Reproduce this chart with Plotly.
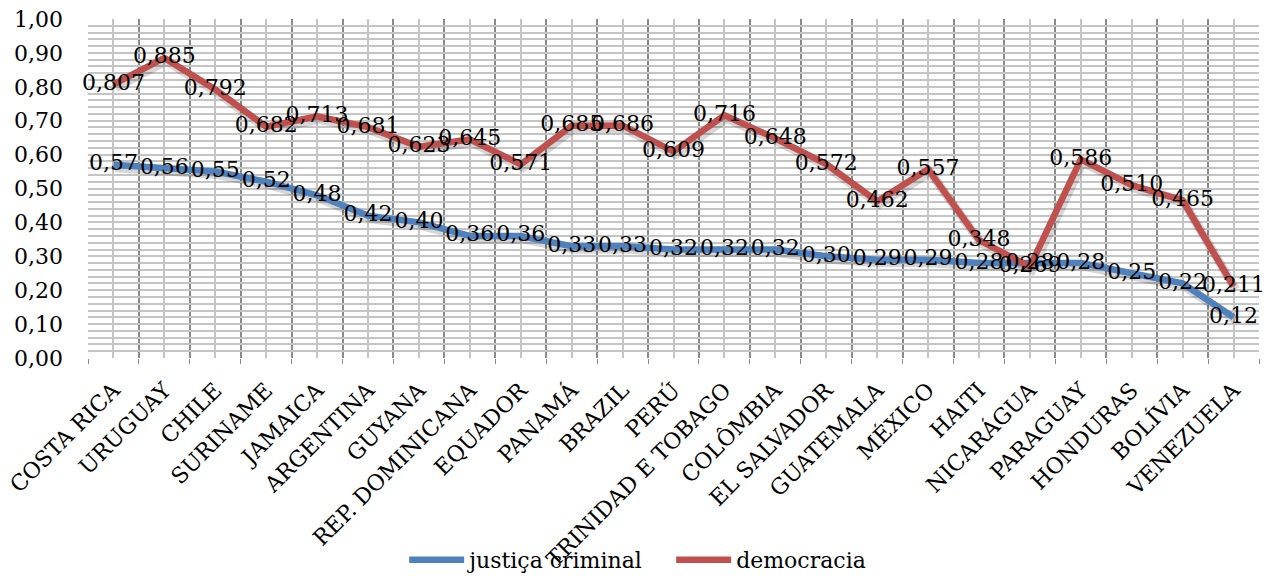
import plotly.graph_objects as go

categories = ["COSTA RICA", "URUGUAY", "CHILE", "SURINAME", "JAMAICA", "ARGENTINA",
              "GUYANA", "REP. DOMINICANA", "EQUADOR", "PANAMÁ", "BRAZIL", "PERÚ",
              "TRINIDAD E TOBAGO", "COLÔMBIA", "EL SALVADOR", "GUATEMALA", "MÉXICO",
              "HAITI", "NICARÁGUA", "PARAGUAY", "HONDURAS", "BOLÍVIA", "VENEZUELA"]
justica = [0.57, 0.56, 0.55, 0.52, 0.48, 0.42, 0.40, 0.36, 0.36, 0.33, 0.33, 0.32,
           0.32, 0.32, 0.30, 0.29, 0.29, 0.28, 0.28, 0.28, 0.25, 0.22, 0.12]
democracia = [0.807, 0.885, 0.792, 0.682, 0.713, 0.681, 0.623, 0.645, 0.571, 0.685,
              0.686, 0.609, 0.716, 0.648, 0.572, 0.462, 0.557, 0.348, 0.269, 0.586,
              0.510, 0.465, 0.211]
y_ticks = [0.0, 0.1, 0.2, 0.3, 0.4, 0.5, 0.6, 0.7, 0.8, 0.9, 1.0]

W, H = 1271, 576
ML, MR, MT, MB = 88, 12, 19, 218
x_idx = list(range(len(categories)))
XR = [-0.5, len(categories) - 0.5]
YR = [0, 1]
BLUE = "#4F81BD"
RED = "#C0504D"
FONT = "DejaVu Serif"
FS = 22

# shadow offset (pixels) converted into axis-range shifts
px_x = (XR[1] - XR[0]) / (W - ML - MR)
px_y = (YR[1] - YR[0]) / (H - MT - MB)
SX, SY = 2, 3
XR_sh = [XR[0] - SX * px_x, XR[1] - SX * px_x]
YR_sh = [YR[0] + SY * px_y, YR[1] + SY * px_y]

def fmt(v, d):
    return f"{v:.{d}f}".replace(".", ",")

fig = go.Figure()
# base subplot anchor (invisible) so that the gridded main axes are drawn
fig.add_trace(go.Scatter(x=x_idx, y=justica, mode="lines", showlegend=False,
                         hoverinfo="skip", opacity=0, line=dict(width=0)))
# shadows
for ys in (justica, democracia):
    fig.add_trace(go.Scatter(x=x_idx, y=ys, mode="lines", showlegend=False, hoverinfo="skip",
                             line=dict(color="rgba(0,0,0,0.16)", width=9),
                             xaxis="x2", yaxis="y2"))
# lines
fig.add_trace(go.Scatter(x=x_idx, y=justica, mode="lines", name="justiça criminal",
                         line=dict(color=BLUE, width=6.5), xaxis="x3", yaxis="y3"))
fig.add_trace(go.Scatter(x=x_idx, y=democracia, mode="lines", name="democracia",
                         line=dict(color=RED, width=6.5), xaxis="x3", yaxis="y3"))
# labels
fig.add_trace(go.Scatter(x=x_idx, y=justica, mode="text", showlegend=False,
                         text=[fmt(v, 2) for v in justica], textposition="middle center",
                         textfont=dict(family=FONT, size=FS, color="black"), cliponaxis=False,
                         hoverinfo="skip", xaxis="x3", yaxis="y3"))
fig.add_trace(go.Scatter(x=x_idx, y=democracia, mode="text", showlegend=False,
                         text=[fmt(v, 3) for v in democracia], textposition="middle center",
                         textfont=dict(family=FONT, size=FS, color="black"), cliponaxis=False,
                         hoverinfo="skip", xaxis="x3", yaxis="y3"))

hidden = dict(showgrid=False, zeroline=False, showticklabels=False, ticks="",
              showline=False, automargin=False)

fig.update_layout(
    width=W, height=H,
    margin=dict(l=ML, r=MR, t=MT, b=MB, autoexpand=False),
    paper_bgcolor="white", plot_bgcolor="white",
    font=dict(family=FONT, size=FS, color="black"),
    separators=", ",
    showlegend=True,
    legend=dict(orientation="h", x=0.498, xanchor="center", yref="container", y=0.028,
                yanchor="middle", font=dict(family=FONT, size=FS), entrywidth=197,
                itemwidth=55, bgcolor="rgba(0,0,0,0)"),
    xaxis=dict(range=XR, tickmode="array", tickvals=x_idx,
               ticktext=categories, tickangle=-45, showgrid=True, gridcolor="#c4c4c4",
               gridwidth=1.5, zeroline=False, ticks="", showline=False, automargin=False,
               ticklabelstandoff=14, ticklabeloverflow="allow",
               tickfont=dict(family=FONT, size=FS),
               minor=dict(tick0=-0.5, dtick=1, showgrid=True, gridcolor="#8a8a8a",
                          gridwidth=1.5, ticks="outside", ticklen=5, tickcolor="#8a8a8a")),
    yaxis=dict(range=YR, tickmode="array", tickvals=y_ticks, tickformat=".2f",
               showgrid=True, gridcolor="#c4c4c4", gridwidth=1.5, zeroline=False,
               automargin=False, ticklabelstandoff=24, tickfont=dict(family=FONT, size=FS),
               minor=dict(dtick=0.02, showgrid=True, gridcolor="#c4c4c4", gridwidth=1.5)),
    xaxis2=dict(range=XR_sh, overlaying="x", **hidden),
    yaxis2=dict(range=YR_sh, overlaying="y", **hidden),
    xaxis3=dict(range=XR, overlaying="x", **hidden),
    yaxis3=dict(range=YR, overlaying="y", **hidden),
)

fig.write_html("out.html", config={"displayModeBar": False},
               post_script="document.body.style.margin='0';document.body.style.overflow='hidden';")
